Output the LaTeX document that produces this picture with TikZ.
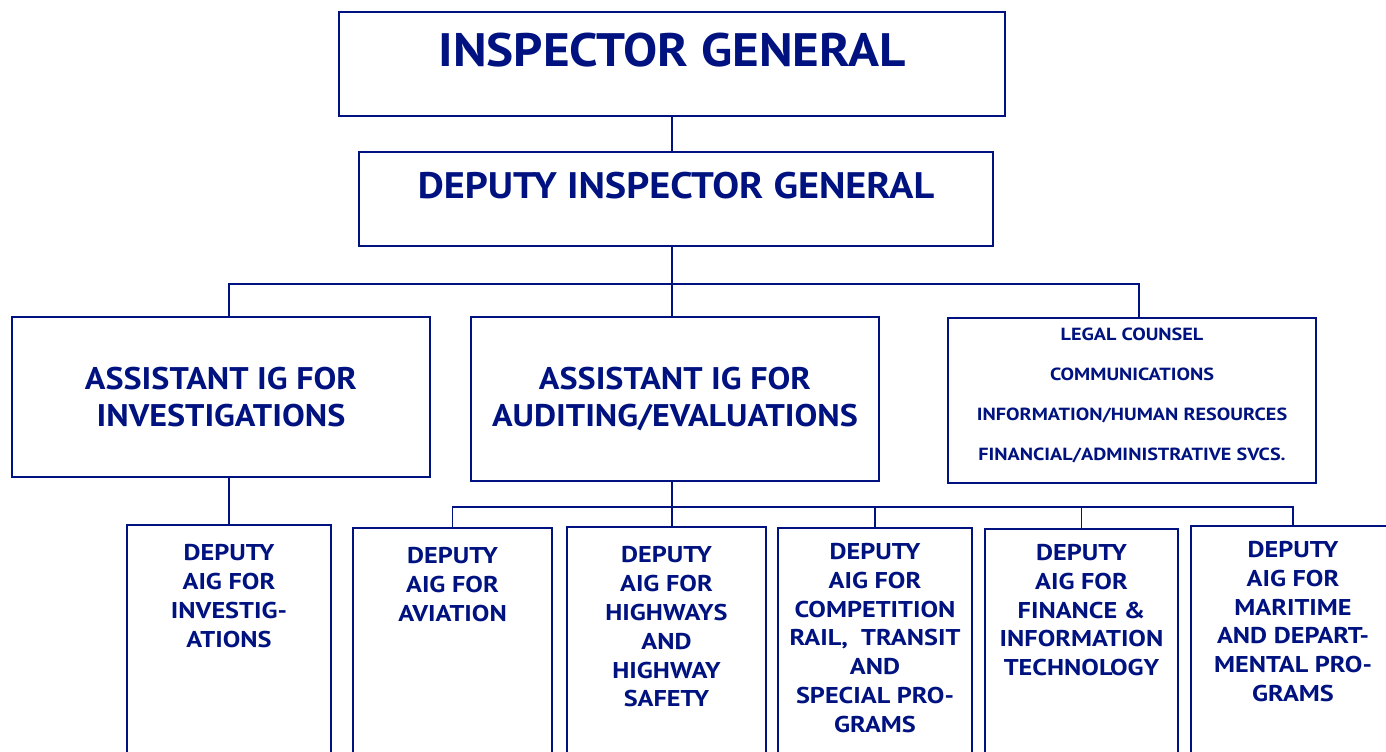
\documentclass[tikz,border=0pt]{standalone}
\usepackage{fontspec}
\setmainfont{PT Sans}
\newfontfamily\orgfont[FakeStretch=1.09]{PT Sans}
\newfontfamily\smallorgfont[FakeStretch=1.15]{PT Sans}
\usetikzlibrary{positioning}
\definecolor{ignavy}{RGB}{0,18,128}

\tikzset{
  orgbox/.style={draw=ignavy, line width=1.6pt, inner sep=0pt, outer sep=0pt},
  orgline/.style={draw=ignavy, line width=1.1pt},
  orgtext/.style={text=ignavy, font=\bfseries, align=center, inner sep=0pt},
  bigtext/.style={orgtext, font=\orgfont\bfseries\fontsize{#1}{#1}\selectfont},
  aigtext/.style={orgtext, font=\orgfont\bfseries\fontsize{17.8}{21}\selectfont},
  stafftext/.style={orgtext, font=\smallorgfont\bfseries\fontsize{10}{22.7}\selectfont},
  deptext/.style={orgtext, font=\smallorgfont\bfseries\fontsize{13}{16.4}\selectfont},
}

% box from its corners: name, x1, y1, x2, y2
\newcommand{\orgunit}[5]{%
  \node[orgbox, minimum width={(#4-#2)*0.02cm}, minimum height={(#5-#3)*0.02cm}]
    (#1) at ({(#2+#4)/2},{(#3+#5)/2}) {};}

\begin{document}
\begin{tikzpicture}[x=0.02cm, y=-0.02cm]
    \useasboundingbox (0,0) rectangle (1386,751);
    \clip (0,0) rectangle (1386,751);

    % Front office
    \orgunit{ig}{339}{12}{1005}{116}
    \node[bigtext=26.7, below=12pt of ig.north] {INSPECTOR GENERAL};
    \orgunit{dig}{359}{152}{993}{246}
    \node[bigtext=21, below=11pt of dig.north] {DEPUTY INSPECTOR GENERAL};

    % Assistant IGs and staff offices
    \orgunit{aigi}{12}{317}{430}{477}
    \node[aigtext] at (aigi.center) {ASSISTANT IG FOR\\INVESTIGATIONS};
    \orgunit{aiga}{471}{317}{879}{481}
    \node[aigtext] at (aiga.center) {ASSISTANT IG FOR\\AUDITING/EVALUATIONS};
    \orgunit{staff}{948}{318}{1316}{483}
    \node[stafftext, yshift=3pt] at (staff.center) {LEGAL COUNSEL\\COMMUNICATIONS\\INFORMATION/HUMAN RESOURCES\\FINANCIAL/ADMINISTRATIVE SVCS.};

    % Deputy AIGs
    \orgunit{daigi}{127}{525}{331}{770}
    \node[deptext, below=11pt of daigi.north] {DEPUTY\\AIG FOR\\INVESTIG-\\ATIONS};
    \orgunit{avi}{353}{528}{552}{770}
    \node[deptext, below=11pt of avi.north] {DEPUTY\\AIG FOR\\AVIATION};
    \orgunit{hwy}{567}{527}{766}{770}
    \node[deptext, below=11pt of hwy.north] {DEPUTY\\AIG FOR\\HIGHWAYS\\AND\\HIGHWAY\\SAFETY};
    \orgunit{comp}{778}{528}{972}{770}
    \node[deptext, below=8.5pt of comp.north] {DEPUTY\\AIG FOR\\COMPETITION\\RAIL,\ \ TRANSIT\\AND\\SPECIAL PRO-\\GRAMS};
    \orgunit{fin}{985}{529}{1178}{770}
    \node[deptext, below=8.5pt of fin.north] {DEPUTY\\AIG FOR\\FINANCE \&\\INFORMATION\\TECHNOLOGY};
    \orgunit{mar}{1191}{526}{1395}{770}
    \node[deptext, below=8.5pt of mar.north] {DEPUTY\\AIG FOR\\MARITIME\\AND DEPART-\\MENTAL PRO-\\GRAMS};

    % Connectors
    \coordinate (invdrop) at (229,284);
    \coordinate (stfdrop) at (1139,284);
    \coordinate (lowbus) at (0,507);
    \draw[orgline] (ig.south) -- (ig.south |- dig.north);
    \draw[orgline] (ig.south |- dig.south) -- (ig.south |- aiga.north);
    \draw[orgline] (invdrop |- aigi.north) -- (invdrop) -- (stfdrop) -- (stfdrop |- staff.north);
    \draw[orgline] (daigi.north |- aigi.south) -- (daigi.north);
    \draw[orgline] (ig.south |- aiga.south) -- (ig.south |- hwy.north);
    \draw[orgline] (avi.north) -- (avi.north |- lowbus) -| (mar.north);
    \draw[orgline] (comp.north) -- (comp.north |- lowbus);
    \draw[orgline] (fin.north) -- (fin.north |- lowbus);
\end{tikzpicture}
\end{document}
